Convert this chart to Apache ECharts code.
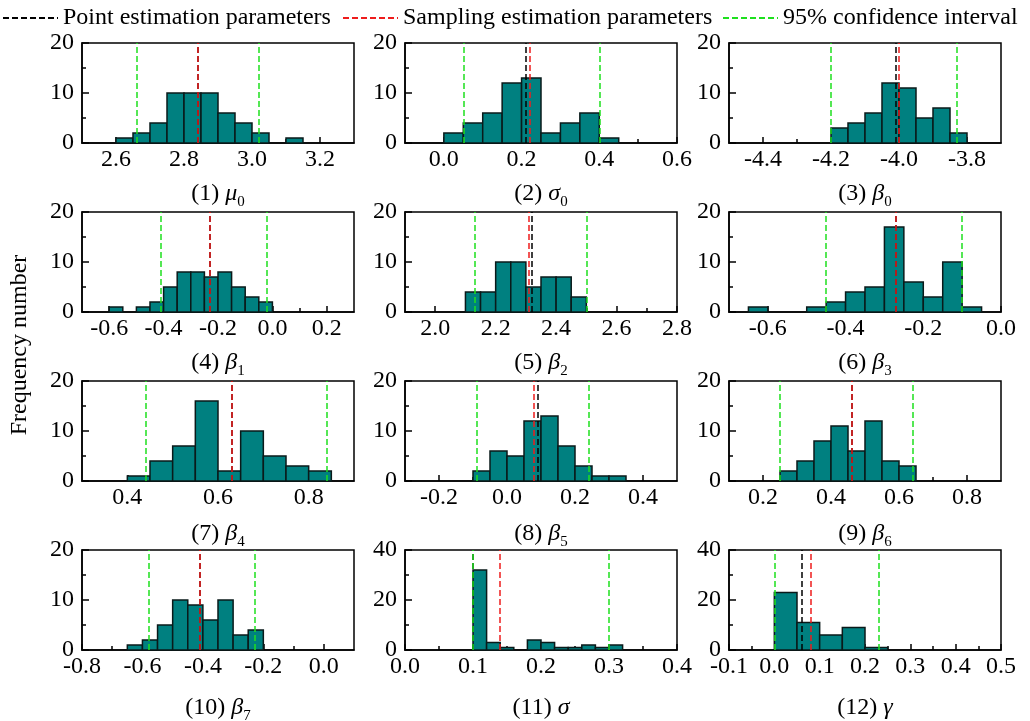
<!DOCTYPE html>
<html>
<head>
<meta charset="utf-8">
<script src="https://cdn.jsdelivr.net/npm/echarts@6/dist/echarts.min.js"></script>
<style>
  html, body { margin: 0; padding: 0; background: #fff; }
  #chart { width: 1030px; height: 721px; }
</style>
</head>
<body>
<div id="chart"></div>
<script>
// legend entries
const legendNames = ['Point estimation parameters', 'Sampling estimation parameters', '95% confidence interval'];

// panel captions (rich text: g = greek italic, s = subscript)
const panelLabels = [
  '(1) {g|μ}{s|0}', '(2) {g|σ}{s|0}', '(3) {g|β}{s|0}',
  '(4) {g|β}{s|1}', '(5) {g|β}{s|2}', '(6) {g|β}{s|3}',
  '(7) {g|β}{s|4}', '(8) {g|β}{s|5}', '(9) {g|β}{s|6}',
  '(10) {g|β}{s|7}', '(11) {g|σ}', '(12) {g|γ}'
];

// histogram counts per panel, bins start at binStarts[i], width binWidths[i]
const countsMu0    = [1, 2, 4, 10, 10, 10, 6, 4, 2, 0, 1];
const countsSigma0 = [2, 4, 6, 12, 13, 2, 4, 6, 1];
const countsBeta0  = [3, 4, 6, 12, 11, 5, 7, 2];
const countsBeta1  = [1, 0, 1, 2, 5, 8, 8, 7, 8, 5, 3, 2];
const countsBeta2  = [4, 4, 10, 10, 5, 7, 7, 3];
const countsBeta3  = [1, 0, 0, 1, 2, 4, 5, 17, 6, 3, 10, 1];
const countsBeta4  = [1, 4, 7, 16, 2, 10, 5, 3, 2];
const countsBeta5  = [2, 6, 5, 12, 13, 7, 3, 1, 1];
const countsBeta6  = [2, 4, 8, 11, 6, 12, 4, 3];
const countsBeta7  = [1, 2, 5, 10, 9, 6, 10, 3, 4];
const countsSigma  = [32, 3, 1, 0, 4, 3, 1, 1, 2, 1, 2];
const countsGamma  = [23, 11, 6, 9, 1];
const counts = [countsMu0, countsSigma0, countsBeta0, countsBeta1, countsBeta2, countsBeta3,
                countsBeta4, countsBeta5, countsBeta6, countsBeta7, countsSigma, countsGamma];

const binStarts = [2.6, 0.0, -4.2, -0.6, 2.1, -0.65, 0.4, -0.1, 0.25, -0.65, 0.1, 0.0];
const binWidths = [0.05, 0.05, 0.05, 0.05, 0.05, 0.05, 0.05, 0.05, 0.05, 0.05, 0.02, 0.05];

// vertical reference lines
const pointEst    = [2.837, 0.214, -4.014, -0.235, 2.323, -0.268, 0.627, 0.090, 0.455, -0.408, 0.100, 0.064];
const samplingEst = [2.840, 0.220, -4.005, -0.235, 2.314, -0.266, 0.627, 0.084, 0.459, -0.405, 0.1415, 0.078];
const ciLow       = [2.659, 0.052, -4.202, -0.412, 2.131, -0.446, 0.440, -0.091, 0.253, -0.583, 0.1013, 0.003];
const ciHigh      = [3.021, 0.401, -3.826, -0.016, 2.501, -0.104, 0.836, 0.241, 0.640, -0.228, 0.303, 0.225];

// axes
const xMins = [2.5, -0.1, -4.5, -0.7, 1.9, -0.7, 0.3, -0.3, 0.1, -0.8, 0.0, -0.1];
const xMaxs = [3.3, 0.6, -3.7, 0.3, 2.8, 0.0, 0.9, 0.5, 0.9, 0.1, 0.4, 0.5];
const xMajorTicks = [
  [2.6, 2.8, 3.0, 3.2], [0.0, 0.2, 0.4, 0.6], [-4.4, -4.2, -4.0, -3.8],
  [-0.6, -0.4, -0.2, 0.0, 0.2], [2.0, 2.2, 2.4, 2.6, 2.8], [-0.6, -0.4, -0.2, 0.0],
  [0.4, 0.6, 0.8], [-0.2, 0.0, 0.2, 0.4], [0.2, 0.4, 0.6, 0.8],
  [-0.8, -0.6, -0.4, -0.2, 0.0], [0.0, 0.1, 0.2, 0.3, 0.4], [-0.1, 0.0, 0.1, 0.2, 0.3, 0.4, 0.5]
];
const xMinorTicks = [
  [2.7, 2.9, 3.1], [0.1, 0.3, 0.5], [-4.3, -4.1, -3.9],
  [-0.5, -0.3, -0.1, 0.1], [2.1, 2.3, 2.5, 2.7], [-0.5, -0.3, -0.1],
  [0.5, 0.7], [-0.1, 0.1, 0.3], [0.3, 0.5, 0.7],
  [-0.7, -0.5, -0.3, -0.1], [0.05, 0.15, 0.25, 0.35], [-0.05, 0.05, 0.15, 0.25, 0.35, 0.45]
];
const yMaxs = [20, 20, 20, 20, 20, 20, 20, 20, 20, 20, 40, 40];

// layout
const FONT = "'Liberation Serif', 'Times New Roman', serif";
const colLeft = [82, 405, 729];
const rowTop = [43, 212, 381, 550];
const labelTop = [178, 347, 518, 692];
const legendLeft = [2, 342, 722];
const plotW = 272, plotH = 100;
const lineColors = ['#000000', '#ee1c1c', '#1ee01e'];
const dash = [6, 3];

let chart = echarts.init(document.getElementById('chart'));

let grids = [], xAxes = [], yAxes = [], series = [], graphics = [];

const axisLineStyle = { color: '#000', width: 1.5 };

counts.forEach((panelCounts, i) => {
  let col = i % 3, row = Math.floor(i / 3);

  grids.push({
    left: colLeft[col], top: rowTop[row], width: plotW, height: plotH,
    show: true, borderColor: '#000', borderWidth: 1.5, backgroundColor: 'transparent'
  });

  xAxes.push({
    gridIndex: i, type: 'value', min: xMins[i], max: xMaxs[i], position: 'bottom',
    axisLine: { show: true, onZero: false, lineStyle: axisLineStyle },
    axisTick: { show: true, inside: true, length: 6, customValues: xMajorTicks[i], lineStyle: axisLineStyle },
    axisLabel: {
      customValues: xMajorTicks[i], formatter: v => v.toFixed(1),
      color: '#000', fontFamily: FONT, fontSize: 24, margin: 5
    },
    splitLine: { show: false }
  });
  xAxes.push({
    gridIndex: i, type: 'value', min: xMins[i], max: xMaxs[i], position: 'bottom',
    axisLine: { show: false },
    axisTick: { show: true, inside: true, length: 4, customValues: xMinorTicks[i], lineStyle: axisLineStyle },
    axisLabel: { show: false },
    splitLine: { show: false }
  });

  yAxes.push({
    gridIndex: i, type: 'value', min: 0, max: yMaxs[i], interval: yMaxs[i] / 2,
    axisLine: { show: true, onZero: false, lineStyle: axisLineStyle },
    axisTick: { show: true, inside: true, length: 7, lineStyle: axisLineStyle },
    minorTick: { show: true, splitNumber: 2, length: 4, lineStyle: axisLineStyle },
    axisLabel: { color: '#000', fontFamily: FONT, fontSize: 24, margin: 8 },
    splitLine: { show: false },
    minorSplitLine: { show: false }
  });

  let bins = [];
  panelCounts.forEach((c, k) => {
    if (c > 0) {
      let x0 = binStarts[i] + k * binWidths[i];
      bins.push([x0, x0 + binWidths[i], c]);
    }
  });

  series.push({
    type: 'custom',
    xAxisIndex: 2 * i, yAxisIndex: i,
    silent: true, z: 2,
    encode: { x: [0, 1], y: 2 },
    data: bins,
    renderItem: (params, api) => {
      let p0 = api.coord([api.value(0), api.value(2)]);
      let p1 = api.coord([api.value(1), 0]);
      return {
        type: 'rect',
        shape: { x: p0[0], y: p0[1], width: p1[0] - p0[0], height: p1[1] - p0[1] },
        style: { fill: '#008080', stroke: '#0a1a1a', lineWidth: 1.5 }
      };
    }
  });

  let lineValues = [[pointEst[i]], [samplingEst[i]], [ciLow[i], ciHigh[i]]];
  legendNames.forEach((name, k) => {
    let style = { color: lineColors[k], width: 1.5, type: dash };
    series.push({
      type: 'line', name: name,
      xAxisIndex: 2 * i, yAxisIndex: i,
      data: [], symbol: 'none', z: 3 + k,
      lineStyle: style, itemStyle: { color: lineColors[k] },
      markLine: {
        silent: true, animation: false,
        symbol: ['none', 'none'],
        label: { show: false },
        lineStyle: style,
        data: lineValues[k].map(v => ({ xAxis: v }))
      }
    });
  });

  graphics.push({
    type: 'text',
    x: colLeft[col] + plotW / 2, y: labelTop[row],
    style: {
      text: panelLabels[i],
      fontFamily: FONT, fontSize: 24, lineHeight: 32,
      fill: '#000', align: 'center', verticalAlign: 'top',
      rich: {
        g: { fontFamily: FONT, fontSize: 24, fontStyle: 'italic', lineHeight: 32, fill: '#000' },
        s: { fontFamily: FONT, fontSize: 15, lineHeight: 16, verticalAlign: 'bottom', fill: '#000' }
      }
    }
  });
});

graphics.push({
  type: 'text',
  x: 20, y: 345, rotation: Math.PI / 2,
  style: {
    text: 'Frequency number', fontFamily: FONT, fontSize: 24,
    fill: '#000', align: 'center', verticalAlign: 'middle'
  }
});

// one legend per entry so each can be placed where the reference has it
let legends = legendNames.map((name, k) => ({
  data: [name],
  left: legendLeft[k], top: 6,
  padding: 0,
  itemWidth: 55, itemHeight: 14,
  selectedMode: false,
  itemStyle: { opacity: 0 },
  textStyle: { fontFamily: FONT, fontSize: 24, color: '#000' }
}));

let option = {
  animation: false,
  backgroundColor: '#fff',
  legend: legends,
  grid: grids,
  xAxis: xAxes,
  yAxis: yAxes,
  series: series,
  graphic: graphics
};

chart.setOption(option);
</script>
</body>
</html>
